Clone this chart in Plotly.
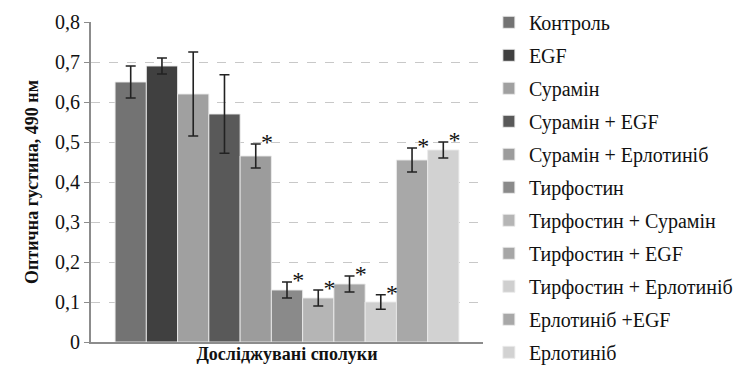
import plotly.graph_objects as go

groups = ["Контроль", "EGF", "Сурамін", "Сурамін + EGF", "Сурамін + Ерлотиніб",
          "Тирфостин", "Тирфостин + Сурамін", "Тирфостин + EGF",
          "Тирфостин + Ерлотиніб", "Ерлотиніб +EGF", "Ерлотиніб"]
values = [0.65, 0.69, 0.62, 0.57, 0.465, 0.13, 0.11, 0.145, 0.10, 0.455, 0.48]
errors = [0.04, 0.02, 0.105, 0.098, 0.03, 0.02, 0.02, 0.02, 0.018, 0.03, 0.02]
significant = [False, False, False, False, True, True, True, True, True, True, True]
colors = ["#737373", "#404040", "#a0a0a0", "#595959", "#9c9c9c", "#8a8a8a",
          "#b5b5b5", "#a6a6a6", "#cfcfcf", "#a8a8a8", "#d2d2d2"]
y_ticks = [0, 0.1, 0.2, 0.3, 0.4, 0.5, 0.6, 0.7, 0.8]
y_tick_labels = ["0", "0,1", "0,2", "0,3", "0,4", "0,5", "0,6", "0,7", "0,8"]

FONT = "serif"

fig = go.Figure()
for i, (name, v, e, c) in enumerate(zip(groups, values, errors, colors)):
    fig.add_trace(go.Bar(
        x=[i], y=[v], name=name, width=1, legendgroup=name,
        marker=dict(color=c, line=dict(color="rgba(235,235,235,0.9)", width=1)),
        error_y=dict(type="data", array=[e], visible=True, color="#222222",
                     thickness=1.6, width=5),
    ))

star_x = [i + 0.36 for i, s in enumerate(significant) if s]
star_y = [v + e for v, e, s in zip(values, errors, significant) if s]
fig.add_trace(go.Scatter(
    x=star_x, y=star_y, mode="text", text=["*"] * len(star_x),
    textposition="middle center", showlegend=False, hoverinfo="skip",
    textfont=dict(family=FONT, size=24),
))

fig.update_layout(
    width=753, height=372,
    margin=dict(l=91, r=270, t=22, b=30, autoexpand=False),
    paper_bgcolor="white", plot_bgcolor="white",
    barmode="overlay",
    font=dict(family=FONT, size=20, color="#111111"),
    xaxis=dict(range=[-1.27, 11.27], showticklabels=False, ticks="",
               showgrid=False, zeroline=False, showline=True,
               linecolor="#8c8c8c", linewidth=2,
               title=dict(text="<b>Досліджувані сполуки</b>", standoff=4,
                          font=dict(family=FONT, size=18))),
    yaxis=dict(range=[0, 0.8], tickvals=y_ticks, ticktext=y_tick_labels,
               showgrid=True, gridcolor="#c8c8c8", griddash="dash", gridwidth=1,
               zeroline=False, showline=True, linecolor="#8c8c8c", linewidth=2,
               ticks="outside", ticklen=5, tickcolor="#8c8c8c",
               tickfont=dict(family=FONT, size=20),
               title=dict(text="<b>Оптична густина, 490 нм</b>", standoff=12,
                          font=dict(family=FONT, size=18))),
    legend=dict(x=1.015, y=1.06, xanchor="left", yanchor="top",
                font=dict(family=FONT, size=20),
                itemwidth=30, tracegroupgap=4,
                maxheight=372, bgcolor="rgba(0,0,0,0)"),
    showlegend=True,
)

fig.write_html("out.html", config={"displayModeBar": False},
               post_script="document.body.style.margin='0';")
